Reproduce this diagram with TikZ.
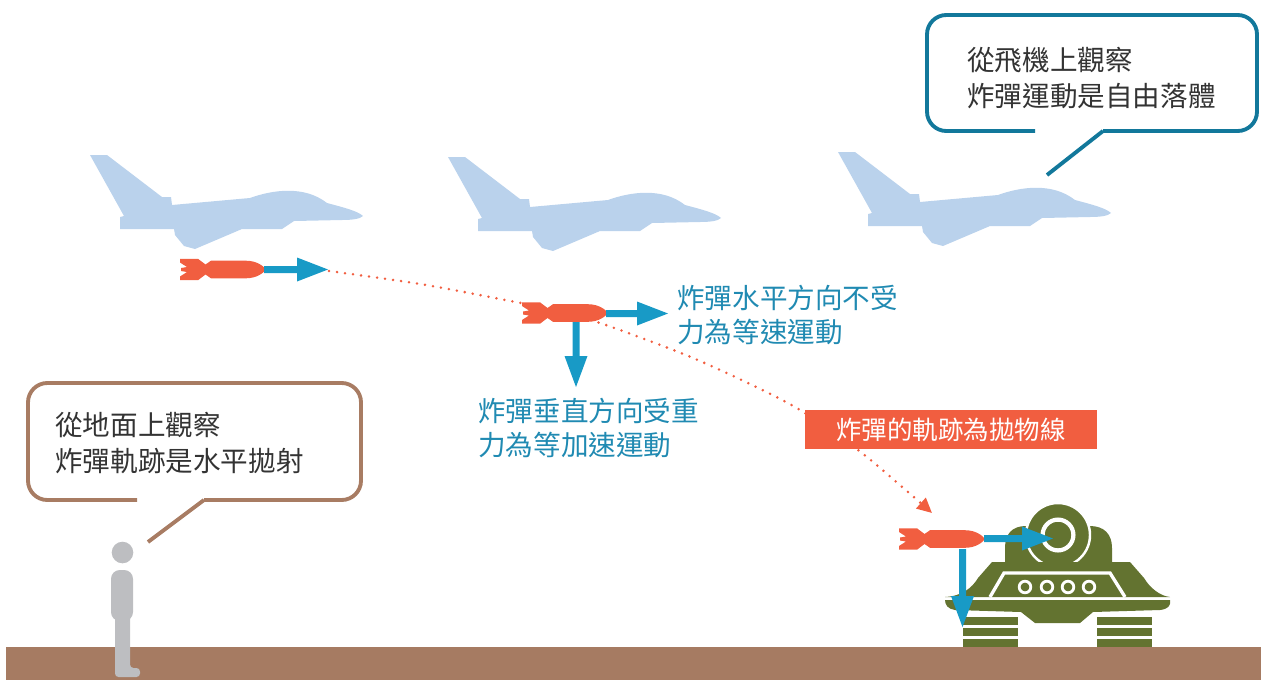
\documentclass[tikz,border=0pt]{standalone}
\usepackage{fontspec}
\newfontfamily\cjk{Noto Sans CJK TC}
\usetikzlibrary{arrows.meta}

\definecolor{planeblue}{RGB}{186,210,236}
\definecolor{bombred}{RGB}{241,94,64}
\definecolor{vecblue}{RGB}{24,154,198}
\definecolor{textblue}{RGB}{32,138,178}
\definecolor{tankgreen}{RGB}{99,115,48}
\definecolor{groundbrown}{RGB}{166,123,98}
\definecolor{persongray}{RGB}{189,190,193}
\definecolor{bubbleteal}{RGB}{18,120,155}
\definecolor{bubblebrown}{RGB}{168,124,99}
\definecolor{textdark}{RGB}{51,51,51}

% horizontal velocity arrow: start x, centre y, tip x
\newcommand\velarrowh[3]{%
  \fill[vecblue] (#1,#2-3.5) -- (#3-31,#2-3.5) -- (#3-31,#2-12) -- (#3,#2)
    -- (#3-31,#2+12) -- (#3-31,#2+3.5) -- (#1,#2+3.5) -- cycle;}
% vertical velocity arrow: centre x, start y, tip y
\newcommand\velarrowv[3]{%
  \fill[vecblue] (#1-3.5,#2) -- (#1-3.5,#3-31) -- (#1-11.5,#3-31) -- (#1,#3)
    -- (#1+11.5,#3-31) -- (#1+3.5,#3-31) -- (#1+3.5,#2) -- cycle;}

\tikzset{
  pics/jet/.style={code={
    \fill[planeblue] (0,0) -- (17,0) -- (72,42) -- (81,42) -- (82,50) -- (160,43)
      .. controls (182,35) and (214,30) .. (237,48)
      .. controls (252,52) and (268,56) .. (273,61)
      .. controls (270,64) and (262,65) .. (252,65)
      -- (204,66) -- (192,74) -- (152,74) -- (105,94) -- (94,91) -- (85,80)
      -- (84,74) -- (30,74) -- (30,62) -- (34,61) -- cycle;
  }},
  pics/bomb/.style={code={
    \fill[bombred] (0,-10.7) -- (18,-10.7) -- (25.5,-5) -- (31,-8.8) -- (66,-8.8)
      .. controls (77,-8.8) and (84,-3) .. (86,0)
      .. controls (84,3) and (77,8.8) .. (66,8.8)
      -- (31,8.8) -- (25.5,5) -- (18,10.7) -- (0,10.7) -- (0,7) -- (7,2.5)
      -- (1,1.5) -- (1,-1.5) -- (7,-2.5) -- (0,-7) -- cycle;
  }},
  bubtext/.style={font=\cjk\fontsize{15.7}{20.6}\selectfont, text=textdark,
    align=left, inner sep=0pt, anchor=north west},
  bluetext/.style={font=\cjk\fontsize{15.7}{19.3}\selectfont, text=textblue,
    align=left, inner sep=0pt, anchor=north west},
  bubline/.style={line width=2.2pt, rounded corners=11pt},
}

\begin{document}
\begin{tikzpicture}[x=0.02cm, y=-0.02cm]
\useasboundingbox (0,0) rectangle (1261,680);

% jets
\pic at (90,155) {jet};
\pic at (448,157) {jet};
\pic at (838,152) {jet};

% trajectory of the bomb
\coordinate (drop) at (329,271);
\coordinate (hit) at (932,513);
\draw[bombred, line width=1.6pt, line cap=round, dash pattern=on 0pt off 4.6pt,
      -{Triangle[length=8.5pt, width=8pt]}]
  plot[smooth, tension=0.55] coordinates {(drop) (420,284) (500,299) (560,311)
    (600,323) (647,340) (693,358) (750,384) (800,410) (858,450) (908,492) (hit)};

% tank
\fill[tankgreen] (1005,562) -- (1005,548) .. controls (1005,534) and (1012,526) .. (1026,526)
  -- (1090,526) .. controls (1104,526) and (1112,534) .. (1112,548) -- (1112,562) -- cycle;
\filldraw[fill=tankgreen, draw=white, line width=1.4pt] (1058,535) circle[radius=32];
\filldraw[fill=tankgreen, draw=white, line width=2.4pt] (1058,535) circle[radius=15.4];
\fill[tankgreen] (945,597) .. controls (962,596) and (972,588) .. (978,578) -- (992,562)
  -- (1130,562) -- (1144,578) .. controls (1150,588) and (1160,596) .. (1170,597) -- cycle;
\draw[white, line width=1.9pt] (990,597) -- (1004,573) -- (1110,573) -- (1125,597);
\foreach \x in {1025,1047,1068,1089}
  \filldraw[fill=tankgreen, draw=white, line width=1.6pt] (\x,587) circle[radius=5.8];
\fill[tankgreen] (945,600) -- (1170,600) .. controls (1171,606) and (1168,609) .. (1160,610)
  -- (1093,612) -- (1080,623) -- (1035,623) -- (1021,612) -- (955,610)
  .. controls (948,609) and (945,605) .. (945,600) -- cycle;
\foreach \y in {617,628,639} {
  \fill[tankgreen] (963,\y) rectangle (1018,\y+8);
  \fill[tankgreen] (1097,\y) rectangle (1152,\y+8);
}

% bombs and their velocity components
\pic at (180,269.5) {bomb};
\velarrowh{264}{269.5}{328}
\pic at (522,313) {bomb};
\velarrowh{606}{313.5}{668}
\velarrowv{576}{322}{387}
\pic at (899,539) {bomb};
\velarrowh{984}{538.5}{1053}
\velarrowv{962.5}{549}{627}

% captions
\node[bluetext] (hcap) at (677,285) {炸彈水平方向不受\\力為等速運動};
\node[bluetext] (vcap) at (478,398) {炸彈垂直方向受重\\力為等加速運動};
\node[fill=bombred, text=white, minimum width=5.84cm, minimum height=0.78cm, inner sep=0pt,
      font=\cjk\fontsize{14.5}{16}\selectfont] (path) at (951,429.5) {炸彈的軌跡為拋物線};

% ground
\fill[groundbrown] (6,647) rectangle (1261,680);

% observer on the ground
\fill[persongray] (122.5,552.5) circle[radius=10.8];
\fill[persongray, rounded corners=5pt] (111,570) rectangle (133,621);
\fill[persongray, rounded corners=2pt] (115,612) -- (115,677) -- (140,677) -- (140,668)
  -- (130,668) -- (130,612) -- cycle;

% speech bubble of the pilot
\draw[bubbleteal, bubline] (1035,131) -- (927,131) -- (927,15) -- (1257,15) -- (1257,131) -- (1103,131);
\coordinate (tailA) at (1047,175);
\draw[bubbleteal, line width=2.2pt] (1103,131) -- (tailA);
\node[bubtext] (planeview) at (967,47) {從飛機上觀察\\炸彈運動是自由落體};

% speech bubble of the observer
\draw[bubblebrown, bubline] (137,500) -- (28,500) -- (28,383) -- (361,383) -- (361,500) -- (204,500);
\coordinate (tailB) at (148,542);
\draw[bubblebrown, line width=2.2pt] (204,500) -- (tailB);
\node[bubtext] (groundview) at (55,412) {從地面上觀察\\炸彈軌跡是水平拋射};

\end{tikzpicture}
\end{document}
